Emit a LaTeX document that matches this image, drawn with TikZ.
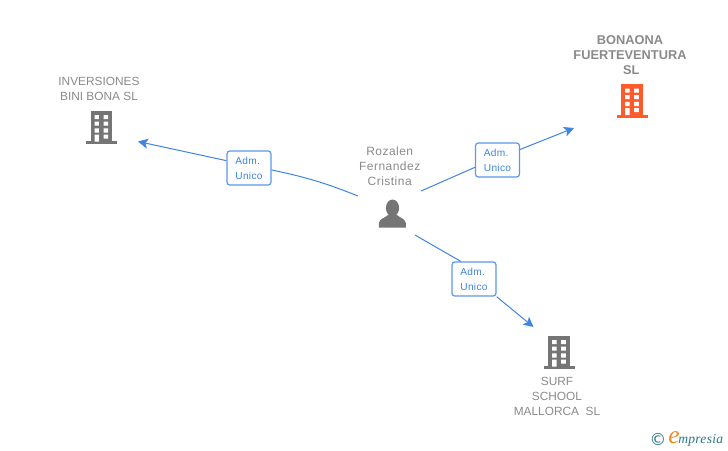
\documentclass[tikz,border=0pt]{standalone}
\usepackage{fontspec}
\setmainfont{Liberation Sans}
\newfontfamily\logofont{Liberation Serif}
\newfontfamily\symfont{DejaVu Sans}
\usetikzlibrary{arrows.meta}
\definecolor{linkblue}{HTML}{3D84E6}
\definecolor{boxblue}{HTML}{5C97E8}
\definecolor{labelgrey}{HTML}{8A8A8A}
\definecolor{icongrey}{HTML}{757575}
\definecolor{iconred}{HTML}{FF5A2B}
\definecolor{logoteal}{HTML}{2F7588}
\definecolor{logoorange}{HTML}{F08A24}
\tikzset{
  px/.style={x=0.75pt,y=-0.75pt},
  link/.style={draw=linkblue,line width=0.75pt},
  arrowlink/.style={link,-{Stealth[length=7.5pt,width=7.5pt,inset=1.8pt]}},
  rolebox/.style={draw=boxblue,line width=0.9pt,fill=white,rounded corners=2.2pt,
    minimum width=33pt,minimum height=25.6pt,inner sep=0pt,text=linkblue,align=left,
    font=\fontsize{7.6pt}{11.25pt}\selectfont\addfontfeature{LetterSpace=3}},
  entity/.style={text=labelgrey,align=center,inner sep=0pt,
    font=\fontsize{8.9pt}{11.25pt}\selectfont},
  entitybold/.style={text=labelgrey,align=center,inner sep=0pt,
    font=\fontsize{9.6pt}{11.25pt}\selectfont\bfseries},
  person/.style={text=labelgrey,align=center,inner sep=0pt,
    font=\fontsize{9pt}{11.25pt}\selectfont\addfontfeature{LetterSpace=4}},
  pics/bld/.style={code={
    \fill[#1] (-10.7,0) rectangle (10.7,31);
    \fill[#1] (-15.5,30.5) rectangle (15.5,33.5);
    \fill[white] (-6.8,4.4) rectangle (-2.4,8.4)
      (2.2,4.4) rectangle (6.8,8.4)
      (-6.8,11) rectangle (-2.4,15)
      (2.2,11) rectangle (6.8,15)
      (-6.8,17.6) rectangle (-2.4,22)
      (2.2,17.6) rectangle (6.8,22)
      (-6.8,24) rectangle (-2.4,31)
      (2.2,24) rectangle (6.8,28);
  }}
}
\begin{document}
\begin{tikzpicture}[px]
\useasboundingbox (0,0) rectangle (728,450);
% entity labels
\node[entity] (inv) at (99,88.5) {INVERSIONES\\BINI BONA SL};
\node[entitybold] (bon) at (630,55) {BONAONA\\FUERTEVENTURA\\\hspace*{2pt}SL};
\node[person] (roz) at (389.7,166) {Rozalen\\Fernandez\\Cristina};
\node[entity] (surf) at (557,396) {SURF\\SCHOOL\\MALLORCA\ \ SL};
% icons
\pic at (101.3,110.7) {bld=icongrey};
\pic at (632,84.2) {bld=iconred};
\pic at (559,335.7) {bld=icongrey};
\fill[icongrey] (392.5,208) ellipse (6.6 and 8.5);
\fill[icongrey] (378.8,227.5) -- (378.8,223) .. controls (379.5,218.5) and (385,218) .. (388,215)
  -- (397,215) .. controls (400,218) and (405,218.5) .. (405.8,223) -- (405.8,227.5) -- cycle;
% role boxes
\node[rolebox] (r1) at (249,168) {Adm.\\Unico};
\node[rolebox] (r2) at (497.5,160) {Adm.\\Unico};
\node[rolebox] (r3) at (474,279) {Adm.\\Unico};
% free ends
\coordinate (s1) at (358,196);
\coordinate (e1) at (138,141.5);
\coordinate (s2) at (421,191);
\coordinate (e2) at (574,128);
\coordinate (s3) at (415,235);
\coordinate (e3) at (533.5,327);
% connectors
\draw[link] (s1) to[bend right=5] (r1.-5);
\draw[arrowlink] (r1.162) -- (e1);
\draw[link] (s2) -- (r2.198);
\draw[arrowlink] (r2.25) -- (e2);
\draw[link] (s3) -- (r3.127);
\draw[arrowlink] (r3.-38) -- (e3);
% logo
\node[inner sep=0pt,text=logoteal,font=\fontsize{12.5pt}{12pt}\symfont] (copy) at (658,439) {©};
\node[inner sep=0pt,anchor=base west,text=logoteal,font=\fontsize{10.2pt}{12pt}\logofont\itshape\addfontfeature{LetterSpace=2}] (logo) at (678,443) {mpresia};
\node[inner sep=0pt,anchor=base east,text=logoorange,font=\fontsize{19pt}{12pt}\logofont\itshape] (logoe) at (680,443) {e};
\end{tikzpicture}
\end{document}
